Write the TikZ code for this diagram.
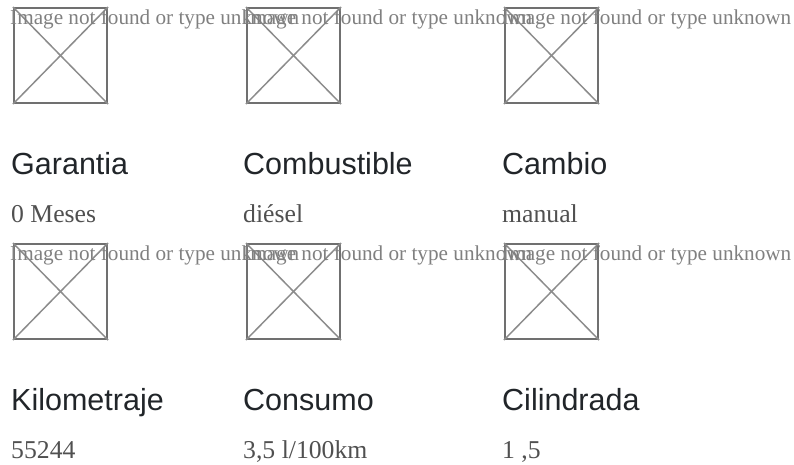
\documentclass[tikz,border=0pt]{standalone}
\usepackage{fontspec}
\setmainfont{Liberation Serif}
\setsansfont{Liberation Sans}
\definecolor{headcol}{HTML}{212529}
\definecolor{valcol}{HTML}{505050}
\definecolor{alttext}{HTML}{808080}
\definecolor{framecol}{HTML}{707070}
\definecolor{crosscol}{HTML}{8C8C8C}
\begin{document}
\begin{tikzpicture}[x=1pt, y=-1pt,
		imgbox/.style={draw=framecol, line width=2pt, minimum width=93pt, minimum height=95pt, inner sep=0pt, anchor=north west},
		cross/.style={draw=crosscol, line width=1.5pt},
		alt/.style={anchor=base west, inner sep=0pt, text=alttext, font=\fontsize{21.2}{24}\selectfont},
		head/.style={anchor=base west, inner sep=0pt, text=headcol, font=\sffamily\fontsize{30.5}{34}\selectfont},
		val/.style={anchor=base west, inner sep=0pt, text=valcol, font=\fontsize{25.7}{29}\selectfont}]
			\useasboundingbox (0, 0) rectangle (794, 464);
			% first row
			\node[imgbox] (img_G) at (13, 7) {};
			\node[imgbox] (img_F) at (246, 7) {};
			\node[imgbox] (img_C) at (504, 7) {};
			\draw[cross] (img_G.north west) -- (img_G.south east);
			\draw[cross] (img_G.north east) -- (img_G.south west);
			\draw[cross] (img_F.north west) -- (img_F.south east);
			\draw[cross] (img_F.north east) -- (img_F.south west);
			\draw[cross] (img_C.north west) -- (img_C.south east);
			\draw[cross] (img_C.north east) -- (img_C.south west);
			\node[alt] (alt_G) at (10, 24) {Image not found or type unknown};
			\node[alt] (alt_F) at (243, 24) {Image not found or type unknown};
			\node[alt] (alt_C) at (502, 24) {Image not found or type unknown};
			\node[head] (head_G) at (11, 174.3) {Garantia};
			\node[head] (head_F) at (243, 174.3) {Combustible};
			\node[head] (head_C) at (502, 174.3) {Cambio};
			\node[val] (val_G) at (11, 222.7) {0 Meses};
			\node[val] (val_F) at (243, 222.7) {diésel};
			\node[val] (val_C) at (502, 222.7) {manual};
			% second row
			\node[imgbox] (img_K) at (13, 243) {};
			\node[imgbox] (img_S) at (246, 243) {};
			\node[imgbox] (img_Z) at (504, 243) {};
			\draw[cross] (img_K.north west) -- (img_K.south east);
			\draw[cross] (img_K.north east) -- (img_K.south west);
			\draw[cross] (img_S.north west) -- (img_S.south east);
			\draw[cross] (img_S.north east) -- (img_S.south west);
			\draw[cross] (img_Z.north west) -- (img_Z.south east);
			\draw[cross] (img_Z.north east) -- (img_Z.south west);
			\node[alt] (alt_K) at (10, 260) {Image not found or type unknown};
			\node[alt] (alt_S) at (243, 260) {Image not found or type unknown};
			\node[alt] (alt_Z) at (502, 260) {Image not found or type unknown};
			\node[head] (head_K) at (11, 410) {Kilometraje};
			\node[head] (head_S) at (243, 410) {Consumo};
			\node[head] (head_Z) at (502, 410) {Cilindrada};
			\node[val] (val_K) at (11, 458.5) {55244};
			\node[val] (val_S) at (243, 458.5) {3,5 l/100km};
			\node[val] (val_Z) at (502, 458.5) {1 ,5};
		\end{tikzpicture}
\end{document}
